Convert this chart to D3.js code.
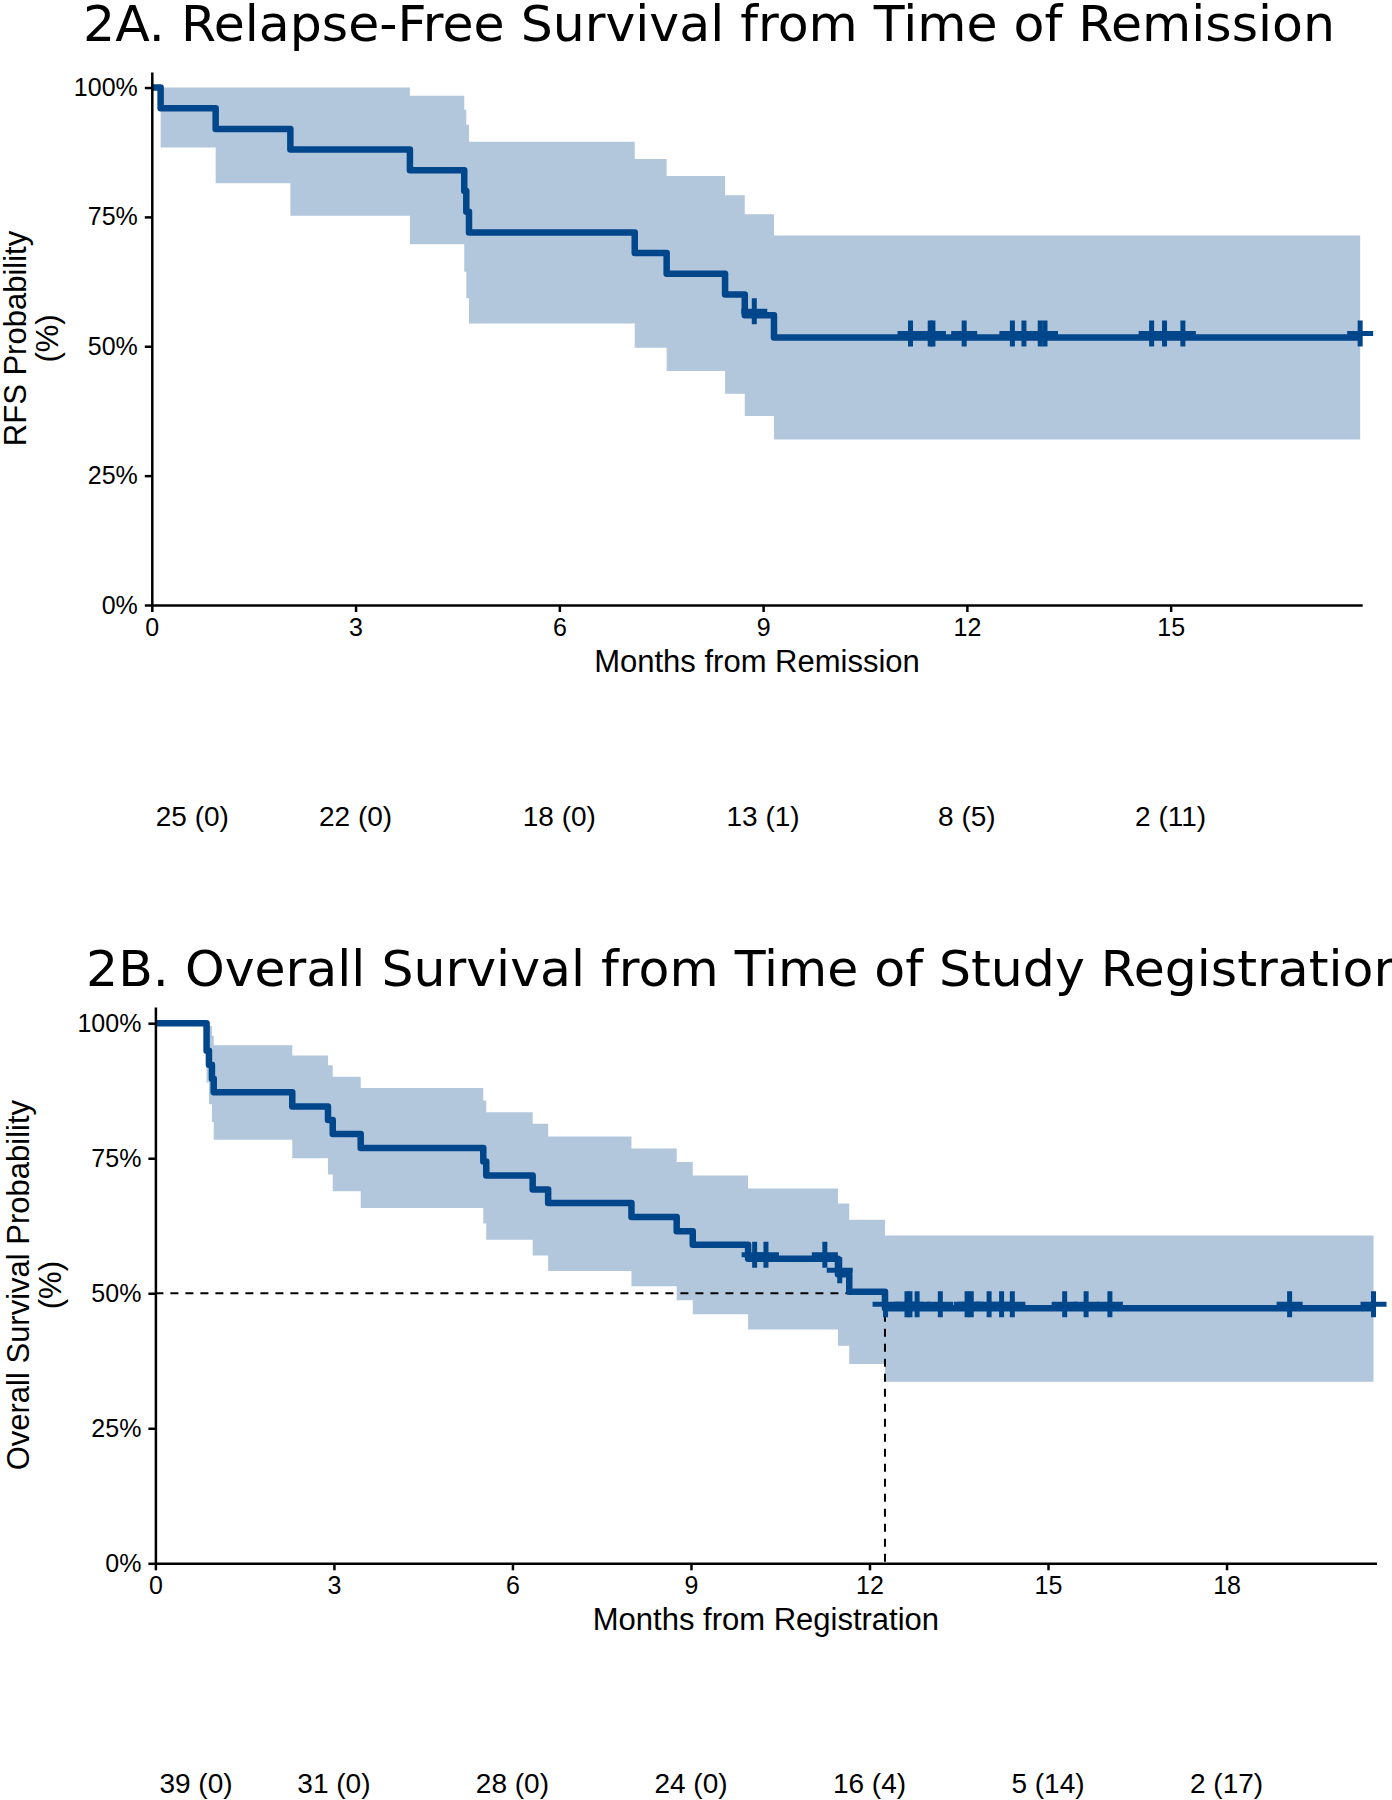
<!DOCTYPE html>
<html>
<head>
<meta charset="utf-8">
<script src="https://cdn.jsdelivr.net/npm/d3@7"></script>
<style>
  html, body { margin: 0; padding: 0; background: #fff; overflow: hidden; }
  svg { display: block; }
</style>
</head>
<body>
<svg id="chart" width="1392" height="1800"></svg>
<script>
// ---------- Panel A: Relapse-free survival ----------
const aTitle = "2A. Relapse-Free Survival from Time of Remission";
const aXLabel = "Months from Remission";
const aYLabel = ["RFS Probability", "(%)"];
const aTimes = [0, 0.13, 0.94, 2.04, 3.80, 4.60, 4.63, 4.67, 7.11, 7.58, 8.44, 8.73, 9.16];
const aSurv  = [1, 0.96, 0.92, 0.88, 0.84, 0.80, 0.76, 0.72, 0.68, 0.64, 0.60, 0.56, 0.517];
const aLower = [1, 0.884, 0.815, 0.752, 0.697, 0.644, 0.593, 0.544, 0.497, 0.452, 0.408, 0.365, 0.320];
const aUpper = [1, 1, 1, 1, 0.984, 0.957, 0.928, 0.895, 0.862, 0.829, 0.792, 0.755, 0.714];
const aEnd = 17.79;
const aCensor = [8.87, 11.17, 11.46, 11.50, 11.96, 12.67, 12.84, 13.08, 13.15, 14.72, 14.91, 15.18, 17.79];
const aXMax = 17.82;
const aXTicks = [0, 3, 6, 9, 12, 15];
const aRisk = ["25 (0)", "22 (0)", "18 (0)", "13 (1)", "8 (5)", "2 (11)"];

// ---------- Panel B: Overall survival ----------
const bTitle = "2B. Overall Survival from Time of Study Registration";
const bXLabel = "Months from Registration";
const bYLabel = ["Overall Survival Probability", "(%)"];
const bTimes = [0, 0.86, 0.90, 0.95, 0.98, 2.30, 2.90, 2.98, 3.45, 5.51, 5.56, 6.34, 6.60, 8.00, 8.76, 9.03, 9.96, 11.47, 11.66, 12.26];
const bSurv  = [1, 0.949, 0.923, 0.897, 0.872, 0.846, 0.821, 0.795, 0.769, 0.744, 0.718, 0.692, 0.667, 0.641, 0.615, 0.590, 0.564, 0.535, 0.503, 0.472];
const bLower = [1, 0.89, 0.85, 0.817, 0.784, 0.750, 0.720, 0.689, 0.658, 0.629, 0.599, 0.570, 0.541, 0.513, 0.487, 0.461, 0.433, 0.403, 0.369, 0.336];
const bUpper = [1, 1.0, 0.995, 0.977, 0.959, 0.940, 0.922, 0.901, 0.880, 0.857, 0.835, 0.814, 0.790, 0.768, 0.743, 0.718, 0.694, 0.666, 0.636, 0.607];
const bEnd = 20.47;
const bCensor = [10.07, 10.26, 11.25, 11.50, 12.27, 12.63, 12.68, 12.80, 13.19, 13.64, 13.71, 14.01, 14.22, 14.40, 15.28, 15.64, 16.04, 19.06, 20.47];
const bXMax = 20.52;
const bXTicks = [0, 3, 6, 9, 12, 15, 18];
const bRisk = ["39 (0)", "31 (0)", "28 (0)", "24 (0)", "16 (4)", "5 (14)", "2 (17)"];
const bMedian = 12.26;

const yTicks = [0, 0.25, 0.5, 0.75, 1];
const yMax = 1.03;

const COL = "#00468B";
const SANS = "'Liberation Sans', Arial, sans-serif";
const TITLE_FONT = "'DejaVu Sans', Verdana, sans-serif";

const svg = d3.select("#chart");

function panel(cfg) {
  const g = svg.append("g");
  const x = d3.scaleLinear().domain([0, cfg.xMax]).range([cfg.left, cfg.right]);
  const y = d3.scaleLinear().domain([0, yMax]).range([cfg.bottom, cfg.top]);

  // title
  g.append("text")
    .attr("x", cfg.titleX).attr("y", cfg.titleY)
    .attr("font-family", TITLE_FONT).attr("font-size", 50.5)
    .attr("fill", "#000")
    .text(cfg.title);

  const pts = cfg.times.map((t, i) => ({ t, s: cfg.surv[i], lo: cfg.lower[i], hi: cfg.upper[i] }));
  const last = pts[pts.length - 1];
  const ptsEnd = pts.concat([{ t: cfg.end, s: last.s, lo: last.lo, hi: last.hi }]);

  // confidence band
  const area = d3.area()
    .curve(d3.curveStepAfter)
    .x(d => x(d.t)).y0(d => y(d.lo)).y1(d => y(d.hi));
  g.append("path").datum(ptsEnd)
    .attr("d", area)
    .attr("fill", COL).attr("fill-opacity", 0.3);

  // median lines
  if (cfg.median != null) {
    g.append("path")
      .attr("d", `M${x(0)},${y(0.5)}H${x(cfg.median)}V${y(0)}`)
      .attr("fill", "none").attr("stroke", "#000")
      .attr("stroke-width", 2).attr("stroke-dasharray", "8,7");
  }

  // survival line
  const line = d3.line().curve(d3.curveStepAfter).x(d => x(d.t)).y(d => y(d.s));
  g.append("path").datum(ptsEnd)
    .attr("d", line)
    .attr("fill", "none").attr("stroke", COL)
    .attr("stroke-width", 6.5).attr("stroke-linejoin", "round");

  // censor marks
  const sAt = t => cfg.surv[d3.bisectRight(cfg.times, t) - 1];
  g.selectAll(".cens").data(cfg.censor).enter().append("path")
    .attr("d", c => {
      const cx = x(c), cy = y(sAt(c)) - 4;
      return `M${cx - 13},${cy}H${cx + 13}M${cx},${cy - 13}V${cy + 13}`;
    })
    .attr("stroke", COL).attr("stroke-width", 5).attr("fill", "none");

  // axes
  const yAxis = d3.axisLeft(y).tickValues(yTicks).tickFormat(d3.format(".0%"))
    .tickSize(7).tickSizeOuter(0).tickPadding(7);
  const ya = g.append("g").attr("transform", `translate(${cfg.left},0)`).call(yAxis);
  const xAxis = d3.axisBottom(x).tickValues(cfg.xTicks).tickFormat(d3.format("d"))
    .tickSize(7).tickSizeOuter(0).tickPadding(6);
  const xa = g.append("g").attr("transform", `translate(0,${cfg.bottom})`).call(xAxis);
  [ya, xa].forEach(a => {
    a.select(".domain").attr("stroke", "#000").attr("stroke-width", 2.5);
    a.selectAll(".tick line").attr("stroke", "#000").attr("stroke-width", 2.5);
    a.selectAll(".tick text").attr("font-family", SANS).attr("font-size", 25).attr("fill", "#000");
  });

  // axis titles
  g.append("text")
    .attr("x", (cfg.left + cfg.right) / 2).attr("y", cfg.bottom + 67)
    .attr("text-anchor", "middle")
    .attr("font-family", SANS).attr("font-size", 31).attr("fill", "#000")
    .text(cfg.xLabel);
  const cy = (cfg.top + cfg.bottom) / 2;
  cfg.yLabel.forEach((lab, i) => {
    const bx = cfg.left - 126 + i * 32;
    g.append("text")
      .attr("transform", `translate(${bx},${cy}) rotate(-90)`)
      .attr("text-anchor", "middle")
      .attr("font-family", SANS).attr("font-size", 31).attr("fill", "#000")
      .text(lab);
  });

  // number at risk
  g.selectAll(".risk").data(cfg.risk).enter().append("text")
    .attr("x", (d, i) => i === 0 ? x(cfg.xTicks[i]) + 4 : x(cfg.xTicks[i]))
    .attr("y", cfg.riskY)
    .attr("text-anchor", (d, i) => i === 0 ? "start" : "middle")
    .attr("font-family", SANS).attr("font-size", 28).attr("fill", "#000")
    .text(d => d);
}

panel({
  title: aTitle, titleX: 83, titleY: 41,
  left: 151.8, right: 1362.2, top: 72, bottom: 605,
  xMax: aXMax, xTicks: aXTicks,
  times: aTimes, surv: aSurv, lower: aLower, upper: aUpper, end: aEnd,
  censor: aCensor, median: null,
  xLabel: aXLabel, yLabel: aYLabel,
  risk: aRisk, riskY: 826
});

panel({
  title: bTitle, titleX: 86, titleY: 986,
  left: 155.4, right: 1376.5, top: 1007, bottom: 1563.3,
  xMax: bXMax, xTicks: bXTicks,
  times: bTimes, surv: bSurv, lower: bLower, upper: bUpper, end: bEnd,
  censor: bCensor, median: bMedian,
  xLabel: bXLabel, yLabel: bYLabel,
  risk: bRisk, riskY: 1793
});
</script>
</body>
</html>
